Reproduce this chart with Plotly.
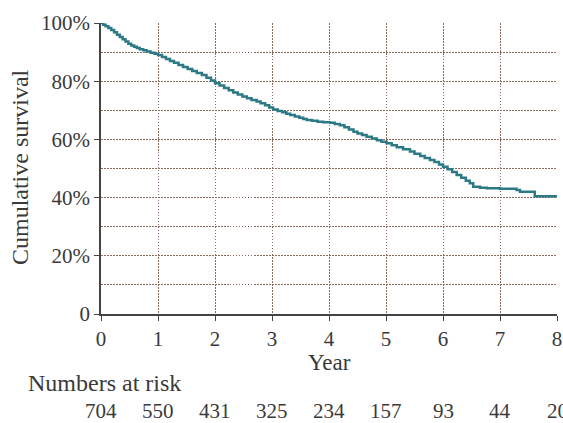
import plotly.graph_objects as go

years = [0, .04, .08, .13, .18, .23, .28, .33, .38, .43,
         .48, .53, .58, .63, .68, .74, .8, .87, .94, 1.0,
         1.07, 1.14, 1.21, 1.28, 1.36, 1.44, 1.52, 1.6, 1.68, 1.77,
         1.85, 1.93, 2.0, 2.08, 2.16, 2.24, 2.32, 2.4, 2.48, 2.56,
         2.64, 2.73, 2.8, 2.88, 2.95, 3.02, 3.1, 3.18, 3.25, 3.32,
         3.4, 3.48, 3.55, 3.61, 3.7, 3.8, 3.9, 4.02, 4.1, 4.19,
         4.27, 4.35, 4.43, 4.5, 4.58, 4.66, 4.75, 4.84, 4.92, 5.01,
         5.1, 5.19, 5.3, 5.42, 5.5, 5.6, 5.68, 5.77, 5.85, 5.93,
         6.0, 6.08, 6.16, 6.24, 6.32, 6.4, 6.47, 6.53, 6.65, 6.77,
         7.0, 7.29, 7.35, 7.61, 8.0]
survival = [100, 99.4, 98.9, 98.3, 97.6, 96.8, 96.0, 95.2, 94.4, 93.6,
            92.9, 92.3, 91.8, 91.4, 91.0, 90.6, 90.2, 89.8, 89.4, 89.0,
            88.3, 87.6, 86.9, 86.3, 85.6, 84.9, 84.2, 83.5, 82.8, 82.1,
            81.2, 80.2, 79.3, 78.5, 77.7, 76.9, 76.1, 75.4, 74.7, 74.1,
            73.5, 73.0, 72.4, 71.7, 71.0, 70.3, 69.8, 69.3, 68.8, 68.4,
            67.9, 67.4, 67.0, 66.7, 66.4, 66.1, 65.9, 65.7, 65.3, 64.9,
            64.2, 63.4, 62.6, 62.0, 61.5, 60.9, 60.3, 59.7, 59.2, 58.7,
            58.0, 57.3, 56.6, 55.8, 55.1, 54.3, 53.6, 52.9, 52.2, 51.4,
            50.6, 49.7, 48.8, 47.8, 46.8, 45.8, 44.9, 43.7, 43.4, 43.2,
            43.0, 42.6, 42.0, 40.5, 40.5]

y_tickvals = [0, 20, 40, 60, 80, 100]
y_ticktext = ["0", "20%", "40%", "60%", "80%", "100%"]
y_minor_grid = [10, 30, 50, 70, 90]
x_tickvals = [0, 1, 2, 3, 4, 5, 6, 7, 8]

risk_years = [0, 1, 2, 3, 4, 5, 6, 7, 8]
risk_counts = [704, 550, 431, 325, 234, 157, 93, 44, 20]

FONT = "Liberation Serif"
TXT = "#3a3a3a"
GRID = "#8a6a5c"
NUM_SIZE = 21
WORD_SIZE = 23
LABEL_SIZE = 24

PW, PH = 456.0, 291.0  # plot area size in px

fig = go.Figure()
fig.add_trace(go.Scatter(x=years, y=survival, mode="lines", line_shape="hv",
                         line=dict(color="#2b7a86", width=2.5), showlegend=False,
                         cliponaxis=False, hoverinfo="skip"))

for yr, n in zip(risk_years, risk_counts):
    fig.add_annotation(x=yr, xref="x", y=-97 / PH, yref="paper", text=str(n),
                       showarrow=False, xanchor="center", yanchor="middle",
                       font=dict(family=FONT, size=NUM_SIZE, color=TXT))
fig.add_annotation(x=-75 / PW, xref="paper", y=-69 / PH, yref="paper",
                   text="Numbers at risk", showarrow=False, xanchor="left", yanchor="middle",
                   font=dict(family=FONT, size=LABEL_SIZE, color=TXT))
fig.add_annotation(x=4, xref="x", y=-48 / PH, yref="paper", text="Year",
                   showarrow=False, xanchor="center", yanchor="middle",
                   font=dict(family=FONT, size=WORD_SIZE, color=TXT))
fig.add_annotation(x=-81 / PW, xref="paper", y=0.505, yref="paper",
                   text="Cumulative survival", textangle=-90, showarrow=False,
                   xanchor="center", yanchor="middle",
                   font=dict(family=FONT, size=LABEL_SIZE, color=TXT))

grid_dash = "1.5px,1.5px"
fig.update_layout(
    width=563, height=423,
    margin=dict(l=101, r=6, t=23, b=109, autoexpand=False),
    paper_bgcolor="white", plot_bgcolor="white",
    font=dict(family=FONT, size=NUM_SIZE, color=TXT),
    xaxis=dict(range=[0, 8], tickvals=x_tickvals, ticks="outside", ticklen=5,
               tickcolor="#444", showline=True, linecolor="#444", linewidth=1.5,
               showgrid=True, gridcolor=GRID, griddash=grid_dash, gridwidth=1.2,
               zeroline=False, automargin=False,
               tickfont=dict(family=FONT, size=NUM_SIZE, color=TXT)),
    yaxis=dict(range=[0, 100], tickvals=y_tickvals, ticktext=y_ticktext,
               ticks="outside", ticklen=5, tickcolor="#444", showline=True,
               linecolor="#444", linewidth=1.5, showgrid=True, gridcolor=GRID,
               griddash=grid_dash, gridwidth=1.2, zeroline=False, automargin=False,
               minor=dict(tickvals=y_minor_grid, showgrid=True, gridcolor=GRID,
                          griddash=grid_dash, gridwidth=1.2, ticks=""),
               tickfont=dict(family=FONT, size=NUM_SIZE, color=TXT)),
)

fig.write_html("out.html", config={"displayModeBar": False},
               post_script="document.body.style.margin='0';document.body.style.overflow='hidden';")
